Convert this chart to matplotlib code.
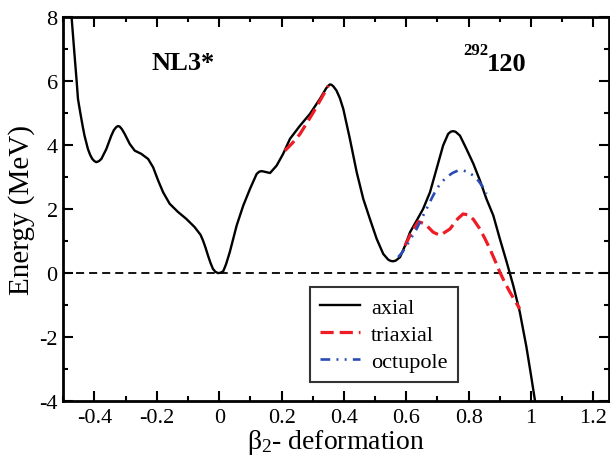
import matplotlib
matplotlib.use("Agg")
import matplotlib.pyplot as plt
from matplotlib.ticker import MultipleLocator, FuncFormatter

plt.rcParams['font.family'] = ['Liberation Serif', 'DejaVu Serif']
plt.rcParams['mathtext.fontset'] = 'custom'
plt.rcParams['mathtext.rm'] = 'Liberation Serif'
plt.rcParams['mathtext.it'] = 'Liberation Serif'
plt.rcParams['mathtext.bf'] = 'Liberation Serif:bold'
plt.rcParams['lines.scale_dashes'] = False

# ---- data ----
axial_x = [-0.476, -0.473, -0.465, -0.457, -0.453, -0.447, -0.442, -0.437, -0.432, -0.421,
           -0.414, -0.407, -0.400, -0.394, -0.386, -0.378, -0.362, -0.346, -0.338, -0.330,
           -0.324, -0.319, -0.312, -0.303, -0.287, -0.271, -0.250, -0.228, -0.212, -0.196,
           -0.180, -0.159, -0.132, -0.106, -0.079, -0.060, -0.052, -0.044, -0.036, -0.028,
           -0.020, -0.012, -0.004, 0.004, 0.013, 0.022, 0.034, 0.056, 0.077, 0.099,
           0.120, 0.128, 0.136, 0.150, 0.163, 0.184, 0.205, 0.227, 0.259, 0.291,
           0.323, 0.343, 0.350, 0.355, 0.360, 0.366, 0.376, 0.387, 0.398, 0.419,
           0.441, 0.462, 0.483, 0.505, 0.526, 0.542, 0.550, 0.558, 0.566, 0.580,
           0.596, 0.612, 0.633, 0.654, 0.676, 0.697, 0.718, 0.734, 0.742, 0.750,
           0.758, 0.772, 0.793, 0.815, 0.836, 0.857, 0.879, 0.900, 0.922, 0.943,
           0.964, 0.985, 1.000, 1.016]
axial_e = [8.30, 7.95, 6.95, 5.98, 5.45, 5.10, 4.82, 4.55, 4.30, 3.88,
           3.70, 3.57, 3.50, 3.47, 3.50, 3.57, 3.88, 4.30, 4.47, 4.57,
           4.60, 4.58, 4.50, 4.35, 4.04, 3.83, 3.73, 3.57, 3.31, 2.90,
           2.53, 2.17, 1.91, 1.70, 1.44, 1.20, 1.02, 0.80, 0.55, 0.32,
           0.13, 0.04, 0.00, 0.01, 0.06, 0.28, 0.66, 1.49, 2.11, 2.64,
           3.10, 3.17, 3.19, 3.16, 3.13, 3.36, 3.73, 4.20, 4.61, 4.98,
           5.45, 5.78, 5.86, 5.90, 5.89, 5.84, 5.71, 5.47, 5.13, 4.20,
           3.15, 2.32, 1.70, 1.07, 0.60, 0.42, 0.38, 0.37, 0.39, 0.50,
           0.86, 1.28, 1.64, 2.01, 2.53, 3.26, 3.99, 4.35, 4.42, 4.44,
           4.42, 4.30, 3.88, 3.42, 2.90, 2.32, 1.80, 1.07, 0.34, -0.39,
           -1.22, -2.30, -3.20, -4.20]

tri1_x = [0.211, 0.235, 0.259, 0.280, 0.302, 0.325, 0.350]
tri1_e = [3.83, 4.07, 4.35, 4.68, 5.03, 5.42, 5.86]

tri2_x = [0.596, 0.617, 0.638, 0.660, 0.686, 0.708, 0.740, 0.765, 0.782, 0.800,
          0.815, 0.836, 0.852, 0.868, 0.884, 0.900, 0.916, 0.932, 0.948, 0.964]
tri2_e = [0.86, 1.28, 1.61, 1.54, 1.28, 1.18, 1.38, 1.70, 1.85, 1.82,
          1.68, 1.38, 1.08, 0.76, 0.40, 0.03, -0.30, -0.59, -0.86, -1.12]

oct_x = [0.574, 0.588, 0.601, 0.617, 0.633, 0.649, 0.665, 0.681, 0.697, 0.713,
         0.729, 0.748, 0.766, 0.782, 0.798, 0.815, 0.831, 0.845, 0.857]
oct_e = [0.50, 0.66, 0.86, 1.12, 1.38, 1.70, 2.01, 2.33, 2.63, 2.84,
         3.00, 3.13, 3.21, 3.21, 3.16, 3.05, 2.89, 2.70, 2.48]

x_ticks = [-0.4, -0.2, 0, 0.2, 0.4, 0.6, 0.8, 1, 1.2]
y_ticks = [-4, -2, 0, 2, 4, 6, 8]

# ---- figure ----
fig = plt.figure(figsize=(6.10, 4.56), dpi=100)
ax = fig.add_axes([63.3 / 610, 1 - 402 / 456, (609 - 63.3) / 610, (402 - 18.3) / 456])

ax.axhline(0, color='black', lw=1.3, ls=(0, (5.8, 3.6)), zorder=1)
ax.plot(axial_x, axial_e, color='black', lw=1.7, label='axial', zorder=3,
        solid_joinstyle='round')
ax.plot(tri1_x, tri1_e, color='#ee1c25', lw=2.3, ls=(0, (9.5, 4.3)), zorder=4,
        label='triaxial')
ax.plot(tri2_x, tri2_e, color='#ee1c25', lw=2.3, ls=(0, (9.5, 4.3)), zorder=4)
ax.plot(oct_x, oct_e, color='#2a4bb5', lw=1.9, ls=(0, (7, 4.5, 1.4, 4.5, 1.4, 4.5)),
        zorder=4, label='octupole')

ax.set_xlim(-0.5, 1.25)
ax.set_ylim(-4, 8)
ax.set_xticks(x_ticks)
ax.set_yticks(y_ticks)
fmt = FuncFormatter(lambda v, p: ('%g' % v).replace('\u2212', '-'))
ax.xaxis.set_major_formatter(fmt)
ax.yaxis.set_major_formatter(fmt)
ax.xaxis.set_minor_locator(MultipleLocator(0.1))
ax.yaxis.set_minor_locator(MultipleLocator(1))
ax.tick_params(which='both', direction='in', top=True, right=True, width=1.5)
ax.tick_params(which='major', length=7.2, labelsize=16)
ax.tick_params(axis='x', which='major', pad=5)
ax.tick_params(axis='y', which='major', pad=4)
ax.tick_params(which='minor', length=3.6)
for s in ax.spines.values():
    s.set_linewidth(2.0)

ax.set_ylabel('Energy (MeV)', fontsize=21, labelpad=3)
ax.set_xlabel(r'$\beta_2$- deformation', fontsize=20, labelpad=0)

ax.text(-0.115, 6.58, 'NL3*', fontsize=19, fontweight='bold', ha='center', va='center')
ax.text(0.923, 6.55, '120', fontsize=19, fontweight='bold', ha='center', va='center')
ax.text(0.862, 6.98, '292', fontsize=12, fontweight='bold', ha='right', va='center')

leg = ax.legend(loc='upper left', bbox_to_anchor=(310 / 610, 1 - 288 / 456),
                bbox_transform=fig.transFigure, fontsize=16, frameon=True,
                fancybox=False, edgecolor='black', borderaxespad=0,
                handlelength=1.8, handletextpad=0.5, labelspacing=0.3,
                borderpad=0.45)
leg.get_frame().set_linewidth(1.5)

fig.savefig('out.png', dpi=100)
